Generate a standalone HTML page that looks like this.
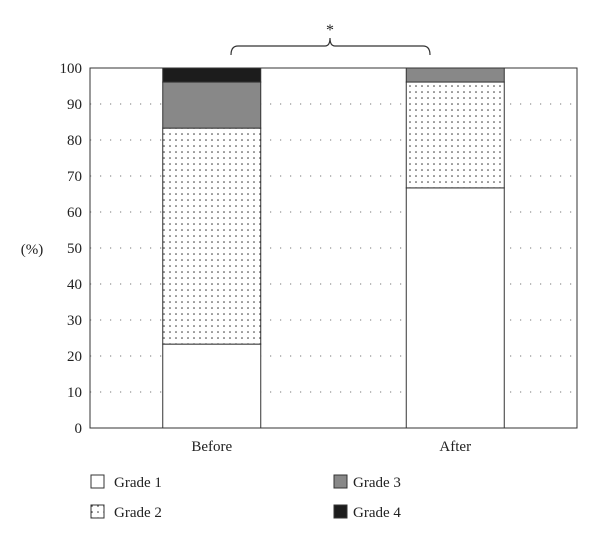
<!DOCTYPE html>
<html><head><meta charset="utf-8"><style>
body{margin:0;background:#fff;}
svg text{font-family:"Liberation Serif",serif;fill:#222;}
</style></head><body>
<svg width="600" height="540" xmlns="http://www.w3.org/2000/svg">
<defs>
<pattern id="dots" width="6" height="6" patternUnits="userSpaceOnUse">
<rect width="6" height="6" fill="#fff"/><circle cx="2" cy="2" r="0.8" fill="#333"/>
</pattern>
</defs>
<g id="grid"></g>
<g id="bars"></g>
<rect x="90" y="68" width="487" height="360" fill="none" stroke="#333" stroke-width="1"/>
<g id="yticks"></g>
<text x="32" y="254" font-size="15" text-anchor="middle">(%)</text>
<g id="xlabels"></g>
<path d="M231,55 Q231,46 238,46 L325,46 Q330,46 330,38 Q330,46 335,46 L423,46 Q430,46 430,55" fill="none" stroke="#333" stroke-width="1.2"/>
<text x="330" y="35" font-size="16" text-anchor="middle">*</text>
<g>
<rect x="91" y="475" width="13" height="13" fill="#fff" stroke="#333"/>
<text x="114" y="487" font-size="15">Grade 1</text>
<rect x="91" y="505" width="13" height="13" fill="url(#dots)" stroke="#333"/>
<text x="114" y="517" font-size="15">Grade 2</text>
<rect x="334" y="475" width="13" height="13" fill="#888" stroke="#333"/>
<text x="353" y="487" font-size="15">Grade 3</text>
<rect x="334" y="505" width="13" height="13" fill="#1c1c1c" stroke="#333"/>
<text x="353" y="517" font-size="15">Grade 4</text>
</g>
</svg>
<script>
const categories = ["Before", "After"];
const grade1 = [23.3, 66.7];
const grade2 = [60.0, 29.4];
const grade3 = [12.8, 3.9];
const grade4 = [3.9, 0];
const yTicks = [0,10,20,30,40,50,60,70,80,90,100];

const NS="http://www.w3.org/2000/svg";
const x0=90,x1=577,yTop=68,yBot=428;
const y=v=>yBot-(v/100)*(yBot-yTop);
const bandW=(x1-x0)/categories.length;
const barW=98;
const xC=i=>x0+bandW*i+bandW/2;
function mk(tag,attrs,parent){const e=document.createElementNS(NS,tag);for(const k in attrs)e.setAttribute(k,attrs[k]);parent.appendChild(e);return e;}

const grid=document.getElementById('grid');
const yt=document.getElementById('yticks');
yTicks.forEach(t=>{
  if(t>0&&t<100){
    const l=mk('line',{x1:x0,x2:x1,y1:y(t),y2:y(t),stroke:'#777','stroke-width':1,'stroke-dasharray':'1.2 8.8'},grid);
    
    
  }
  const tx=mk('text',{x:82,y:y(t)+5,'font-size':15,'text-anchor':'end'},yt);
  tx.textContent=t;
  
  
});

const bars=document.getElementById('bars');
const series=[[grade1,'#fff','grade-1'],[grade2,'url(#dots)','grade-2'],[grade3,'#888','grade-3'],[grade4,'#1c1c1c','grade-4']];
const xl=document.getElementById('xlabels');
categories.forEach((c,i)=>{
  const bx=xC(i)-barW/2;
  let acc=0;
  series.forEach(([arr,fill,nm])=>{
    const v=arr[i];
    if(v>0){
      const r=mk('rect',{x:bx,y:y(acc+v),width:barW,height:y(acc)-y(acc+v),fill:fill,stroke:'#333','stroke-width':1},bars);
      
      
    }
    acc+=v;
  });
  const t=mk('text',{x:bx+barW/2,y:451,'font-size':15,'text-anchor':'middle'},xl);
  t.textContent=c;
  
  
});
</script>
</body></html>
